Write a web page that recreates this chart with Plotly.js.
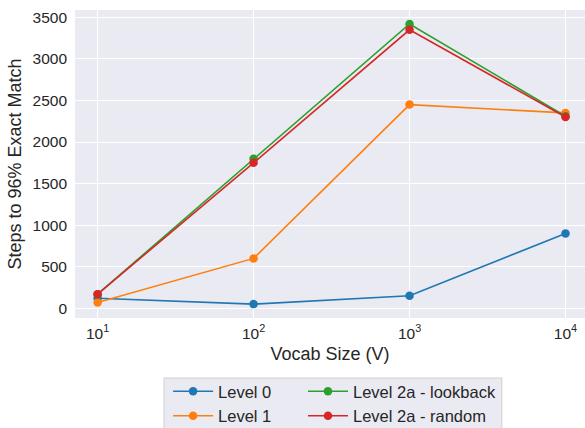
<!DOCTYPE html>
<html>
<head>
<meta charset="utf-8">
<script src="https://cdn.plot.ly/plotly-3.0.1.min.js"></script>
<style>html,body{margin:0;padding:0;background:#fff}</style>
</head>
<body>
<div id="chart" style="width:585px;height:428px"></div>
<script>
const vocab = [10, 100, 1000, 10000];
const level0 = [120, 50, 150, 900];
const level1 = [70, 600, 2450, 2350];
const level2aLookback = [170, 1800, 3420, 2310];
const level2aRandom = [170, 1750, 3350, 2300];
const names = ["Level 0", "Level 1", "Level 2a - lookback", "Level 2a - random"];
const colors = ["#1f77b4", "#ff7f0e", "#2ca02c", "#d62728"];
const legendIds = ["legend", "legend", "legend2", "legend2"];
const xTickVals = [10, 100, 1000, 10000];
const xTickText = ["10<sup>1</sup>", "10<sup>2</sup>", "10<sup>3</sup>", "10<sup>4</sup>"];
const yTickVals = [0, 500, 1000, 1500, 2000, 2500, 3000, 3500];

const series = [level0, level1, level2aLookback, level2aRandom];
const traces = series.map((ys, i) => ({
  x: vocab, y: ys, name: names[i], type: 'scatter', mode: 'lines+markers',
  line: {color: colors[i], width: 1.6},
  marker: {color: colors[i], size: 8.5},
  error_y: {type: 'data', array: ys.map(() => 0), visible: true, color: colors[i], width: 3, thickness: 1.5},
  legend: legendIds[i]
}));

const font = "Liberation Sans, Arial, sans-serif";
const legendCommon = {
  orientation: 'v', yanchor: 'top', y: -0.182, xanchor: 'left',
  bgcolor: 'rgba(0,0,0,0)', borderwidth: 0, itemwidth: 40,
  font: {size: 16.5, color: '#262626'}, traceorder: 'normal'
};
const layout = {
  width: 585, height: 428,
  margin: {l: 75, r: 0, t: 10, b: 110, autoexpand: false},
  paper_bgcolor: '#ffffff',
  plot_bgcolor: '#EAEAF2',
  font: {family: font, color: '#262626', size: 15.5},
  showlegend: true,
  xaxis: {
    type: 'log', range: [0.855, 4.125], automargin: false,
    tickvals: xTickVals, ticktext: xTickText,
    gridcolor: '#ffffff', gridwidth: 1, zeroline: false, showline: false,
    ticks: '', ticklabelstandoff: 4, tickfont: {size: 15.5, color: '#262626'},
    title: {text: 'Vocab Size (V)', font: {size: 18, color: '#262626'}, standoff: 6}
  },
  yaxis: {
    range: [-117, 3588], automargin: false,
    tickvals: yTickVals,
    gridcolor: '#ffffff', gridwidth: 1, zeroline: false, showline: false,
    ticks: '', ticklabelstandoff: 7, tickfont: {size: 15.5, color: '#262626'},
    title: {text: 'Steps to 96% Exact Match', font: {size: 18, color: '#262626'}, standoff: 6}
  },
  legend: Object.assign({}, legendCommon, {x: 0.1825}),
  legend2: Object.assign({}, legendCommon, {x: 0.447}),
  shapes: [{
    type: 'rect', xref: 'paper', yref: 'paper', layer: 'below',
    x0: 0.1745, x1: 0.837, y0: -0.1948, y1: -0.40,
    fillcolor: '#EAEAF2', line: {color: '#d0d0d0', width: 1}
  }]
};
Plotly.newPlot('chart', traces, layout, {displayModeBar: false, staticPlot: true});
</script>
</body>
</html>
